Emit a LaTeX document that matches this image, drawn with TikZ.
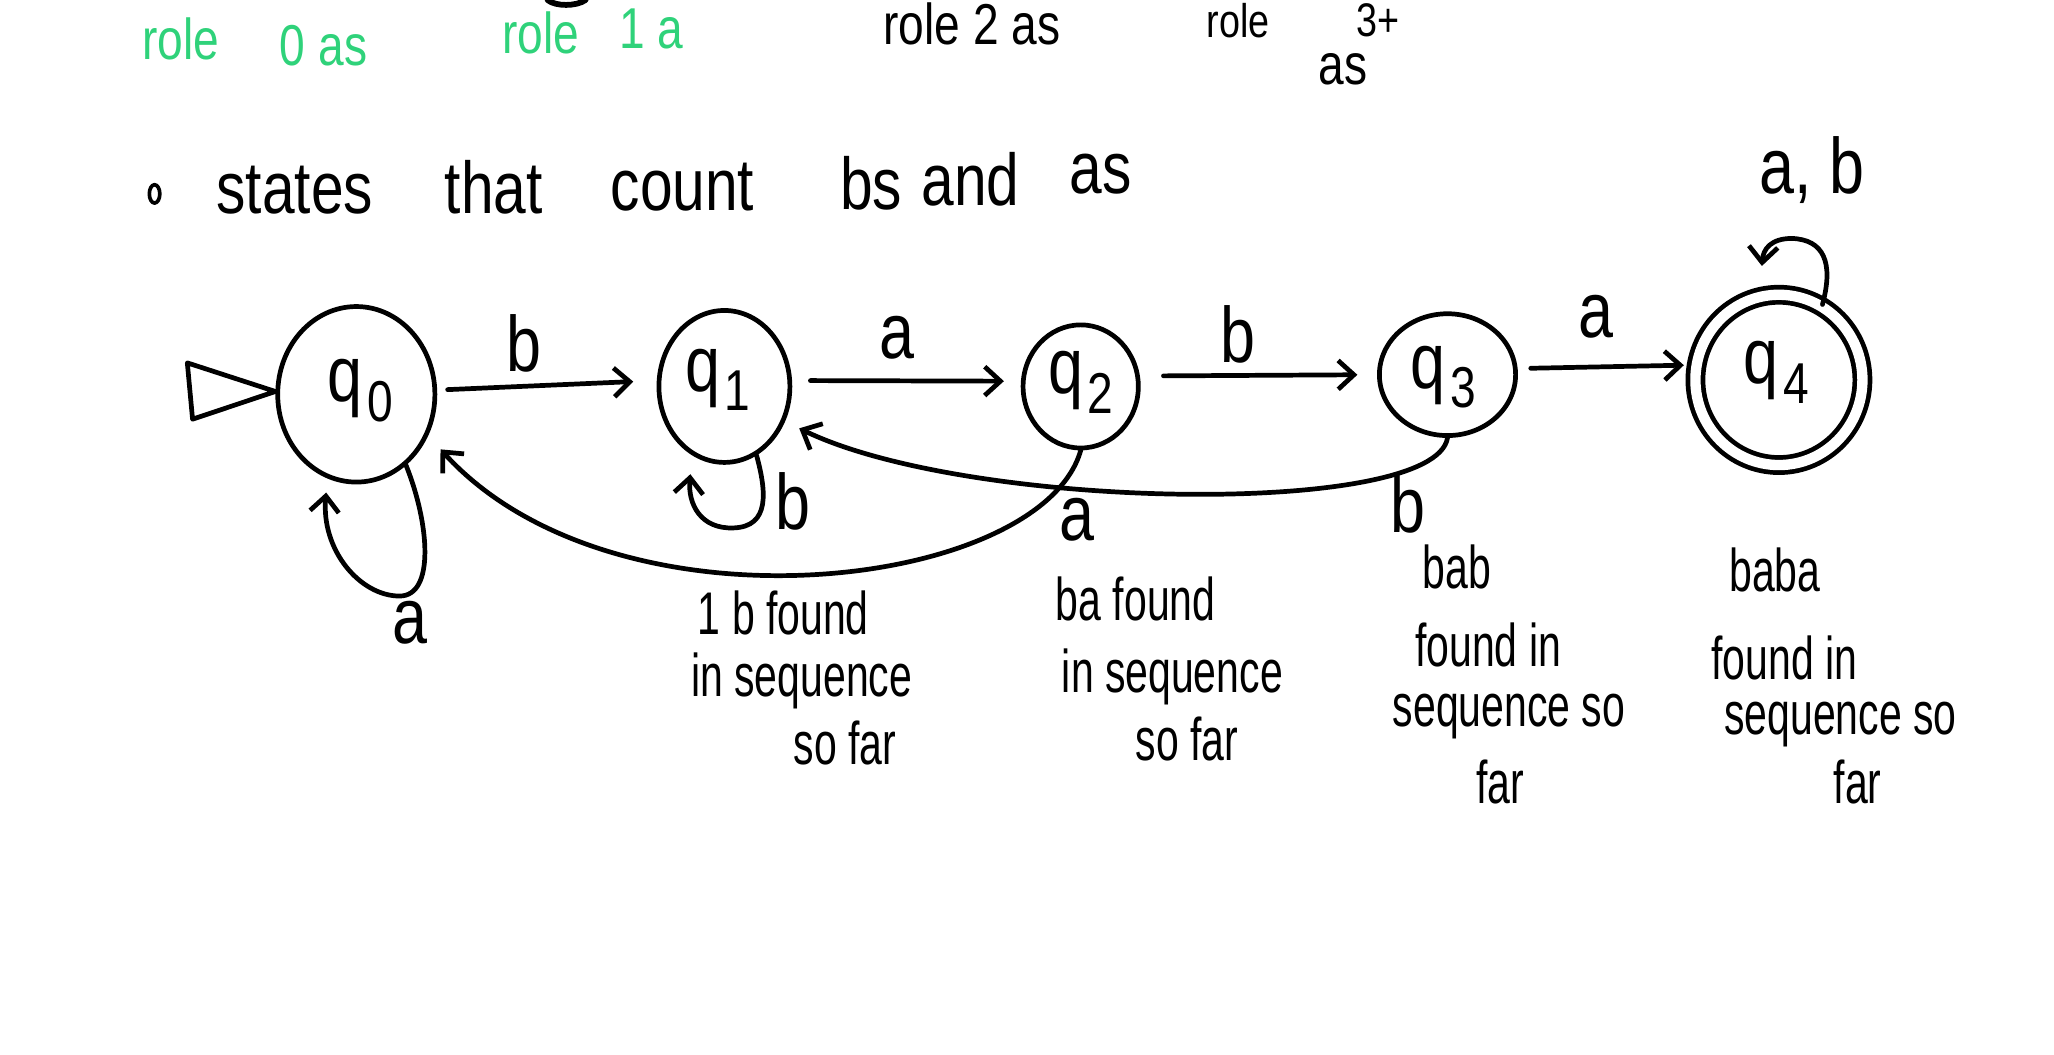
\documentclass[tikz,border=0pt]{standalone}
\usepackage{fontspec}
\setmainfont{Liberation Sans}[FakeStretch=0.8]
\newfontfamily\narrowf{Liberation Sans}[FakeStretch=0.68]
\usetikzlibrary{shapes.geometric,arrows.meta}
\definecolor{hgreen}{HTML}{2FD27A}
\newcommand{\fs}[1]{\fontsize{#1}{#1}\selectfont}
\newcommand{\qlab}[1]{q\kern0.06em\lower0.25em\hbox{\fs{22}#1}}
\begin{document}
\begin{tikzpicture}[x=0.5pt,y=-0.5pt,line width=1.8pt,line cap=round,line join=round,
  state/.style={draw,ellipse,inner sep=0pt},
  edge/.style={-{Straight Barb[length=6pt,width=11pt]}},
  lbl/.style={font=\fs{30},inner sep=0pt},
  qlbl/.style={font=\fs{30},inner sep=0pt},
  note/.style={font=\narrowf\fs{23},inner sep=0pt},
  toptxt/.style={font=\fs{22},inner sep=0pt},
  headtxt/.style={font=\fs{28},inner sep=0pt}]
\useasboundingbox (0,0) rectangle (1568,805);
\clip (0,0) rectangle (1568,805);
% top partial notes
\node[toptxt,text=hgreen] (t1) at (138,30) {role};
\node[toptxt,text=hgreen] (t2) at (247,35) {0 as};
\node[toptxt,text=hgreen] (t3) at (413,25) {role};
\node[toptxt,text=hgreen] (t4) at (497,22) {1 a};
\node[toptxt] (t5) at (742,18) {role 2 as};
\node[toptxt,font=\fs{18},anchor=north] (t6) at (945,1) {role};
\node[toptxt,font=\fs{18},anchor=north] (t7) at (1052,1) {3+};
\node[toptxt] (t8) at (1025,53) {as};
\draw[line width=2.2pt] (418,0) .. controls (424,5) and (440,5) .. (447,0);
% heading
\node[draw,ellipse,minimum width=4pt,minimum height=7pt,line width=1.4pt,inner sep=0pt] (bul) at (118,148) {};
\node[headtxt] (h1) at (225,145) {states};
\node[headtxt] (h2) at (377,143) {that};
\node[headtxt] (h3) at (521,143) {count};
\node[headtxt] (h4) at (665,140) {bs};
\node[headtxt] (h5) at (741,137) {and};
\node[headtxt] (h6) at (840,133) {as};
% states
\node[state,minimum width=60pt,minimum height=67pt] (q0) at (272,301) {};
\node[qlbl] (q0t) at (275,298) {\qlab{0}};
\node[state,minimum width=50pt,minimum height=58pt] (q1) at (553,295) {};
\node[qlbl] (q1t) at (548,290) {\qlab{1}};
\node[state,minimum width=44pt,minimum height=47pt] (q2) at (825,295) {};
\node[qlbl] (q2t) at (825,292) {\qlab{2}};
\node[state,minimum width=52pt,minimum height=46.5pt] (q3) at (1105,286) {};
\node[qlbl] (q3t) at (1102,288) {\qlab{3}};
\node[state,double,double distance=3.95pt,minimum width=63.75pt,minimum height=65pt] (q4) at (1358,290) {};
\node[qlbl] (q4t) at (1356,284) {\qlab{4}};
% start marker
\coordinate (s1) at (143,277);
\coordinate (s2) at (147,320);
\draw (s1) -- (q0.178) -- (s2) -- cycle;
% forward edges
\draw[edge,shorten <=4pt,shorten >=9pt] (q0.3) -- (q1.175);
\node[lbl] (lb01) at (400,262) {b};
\draw[edge,shorten <=7pt,shorten >=6.5pt] (q1.5) -- (q2.175);
\node[lbl] (la12) at (685,258) {a};
\draw[edge,shorten <=9pt,shorten >=7.5pt] (q2.10) -- (q3.180);
\node[lbl] (lb23) at (945,255) {b};
\draw[edge,shorten <=5pt,shorten >=4pt] (q3.5) -- (q4.170);
\node[lbl] (la34) at (1218,242) {a};
% self loops
\coordinate (l0) at (249,376);
\draw[edge] (q0.-55) .. controls (328,400) and (332,455) .. (305,455) .. controls (275,455) and (245,420) .. (l0);
\node[lbl] (la00) at (313,475) {a};
\coordinate (l1) at (527,362);
\draw[edge] (q1.-65) .. controls (585,375) and (588,402) .. (560,403) .. controls (535,404) and (525,385) .. (l1);
\node[lbl] (lb11) at (605,383) {b};
\coordinate (l4) at (1345,203);
\draw[edge] (q4.60) .. controls (1400,200) and (1392,183) .. (1368,182) .. controls (1352,182) and (1346,190) .. (l4);
\node[lbl] (lab44) at (1383,130) {a, b};
% back edges
\draw[edge,shorten >=6pt] (q3.south) .. controls (1095,395) and (740,390) .. (q1.-30);
\node[lbl] (lb31) at (1075,385) {b};
\draw[edge,shorten >=7pt] (q2.south) .. controls (795,450) and (470,490) .. (q0.-30);
\node[lbl] (la20) at (822,397) {a};
% notes
\node[note] (n11) at (598,468) {1 b found};
\node[note] (n12) at (612,520) {in sequence};
\node[note] (n13) at (645,567) {so far};
\node[note] (n21) at (867,457) {ba found};
\node[note] (n22) at (895,517) {in sequence};
\node[note] (n23) at (906,564) {so far};
\node[note] (n31) at (1112,433) {bab};
\node[note] (n32) at (1136,492) {found in};
\node[note] (n33) at (1152,547) {sequence so};
\node[note] (n34) at (1145,597) {far};
\node[note] (n41) at (1355,435) {baba};
\node[note] (n42) at (1362,502) {found in};
\node[note] (n43) at (1405,553) {sequence so};
\node[note] (n44) at (1418,597) {far};
\end{tikzpicture}
\end{document}
